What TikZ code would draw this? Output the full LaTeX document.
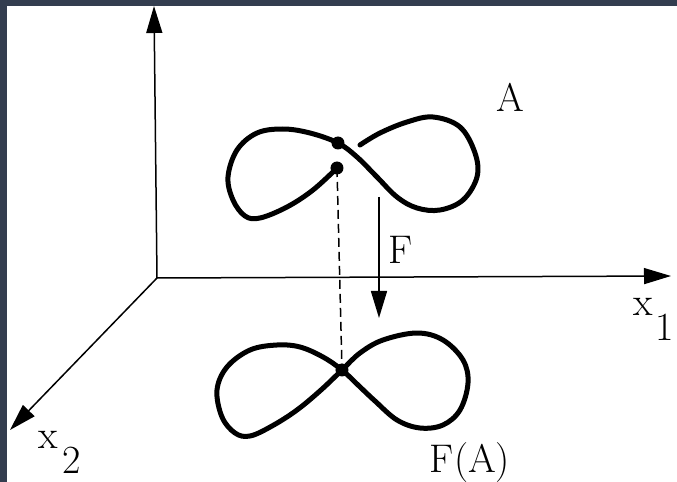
\documentclass[tikz,border=0pt]{standalone}
\usepackage{tikz}
\usetikzlibrary{arrows.meta}
\definecolor{marco}{HTML}{333D4F}
\begin{document}
\begin{tikzpicture}[x=0.5pt,y=-0.5pt,
    eje/.style={line width=0.75pt,-{Triangle[length=13.5pt,width=8pt]}},
    lazo/.style={line width=2.5pt,line cap=round,line join=round},
    punto/.style={circle,fill=black,inner sep=0pt,minimum size=6.5pt},
    etiq/.style={font=\fontsize{20}{24}\selectfont,inner sep=0pt}]
  % marco
  \fill[marco] (0,0) rectangle (677,482);
  \fill[white] (7,6) rectangle (677,482);
  \useasboundingbox (0,0) rectangle (677,482);
  % ejes
  \coordinate (O) at (157,278);
  \coordinate (ejeX1) at (671,276);
  \coordinate (ejeX2) at (10,430);
  \coordinate (ejeX3) at (154,6);
  \draw[eje] (O) -- (ejeX1);
  \draw[eje] (O) -- (ejeX2);
  \draw[eje] (O) -- (ejeX3);
  \node[etiq] (x1) at (643,307) {x};
  \node[etiq] (x1i) at (665,327) {1};
  \node[etiq] (x2) at (48,440) {x};
  \node[etiq] (x2i) at (72,460) {2};
  % conjunto A
  \draw[lazo] plot[smooth,tension=0.6] coordinates {(337,168) (313,190) (287,207)
    (260,218) (245,216) (233,200) (228,177) (237,150) (257,133) (283,129)
    (310,133) (338,143) (357,157) (377,177) (397,197) (417,208) (440,210)
    (463,200) (477,177) (475,153) (460,127) (433,117) (407,122) (380,133)
    (360,145)};
  \node[punto] (pA1) at (338,143) {};
  \node[punto] (pA2) at (337,168) {};
  \node[etiq] (A) at (510,97) {A};
  % imagen F(A)
  \draw[lazo] plot[smooth cycle,tension=0.6] coordinates {(342,370) (323,357)
    (300,347) (277,345) (250,350) (227,367) (217,390) (222,417) (235,433)
    (250,436) (272,426) (297,410) (321,390) (342,370) (360,353) (383,340)
    (417,333) (443,340) (463,360) (468,383) (460,410) (443,425) (420,428)
    (397,420) (375,401) (358,385)};
  \node[punto] (pFA) at (342,370) {};
  \node[etiq] (FA) at (470,463) {F(A)};
  % aplicacion F
  \draw[line width=0.75pt,dash pattern=on 4.5pt off 2.5pt] (pA2.center) -- (pFA.center);
  \coordinate (Fsup) at (379,197);
  \coordinate (Finf) at (379,318);
  \draw[eje] (Fsup) -- (Finf);
  \node[etiq] (F) at (401,250) {F};
\end{tikzpicture}
\end{document}
